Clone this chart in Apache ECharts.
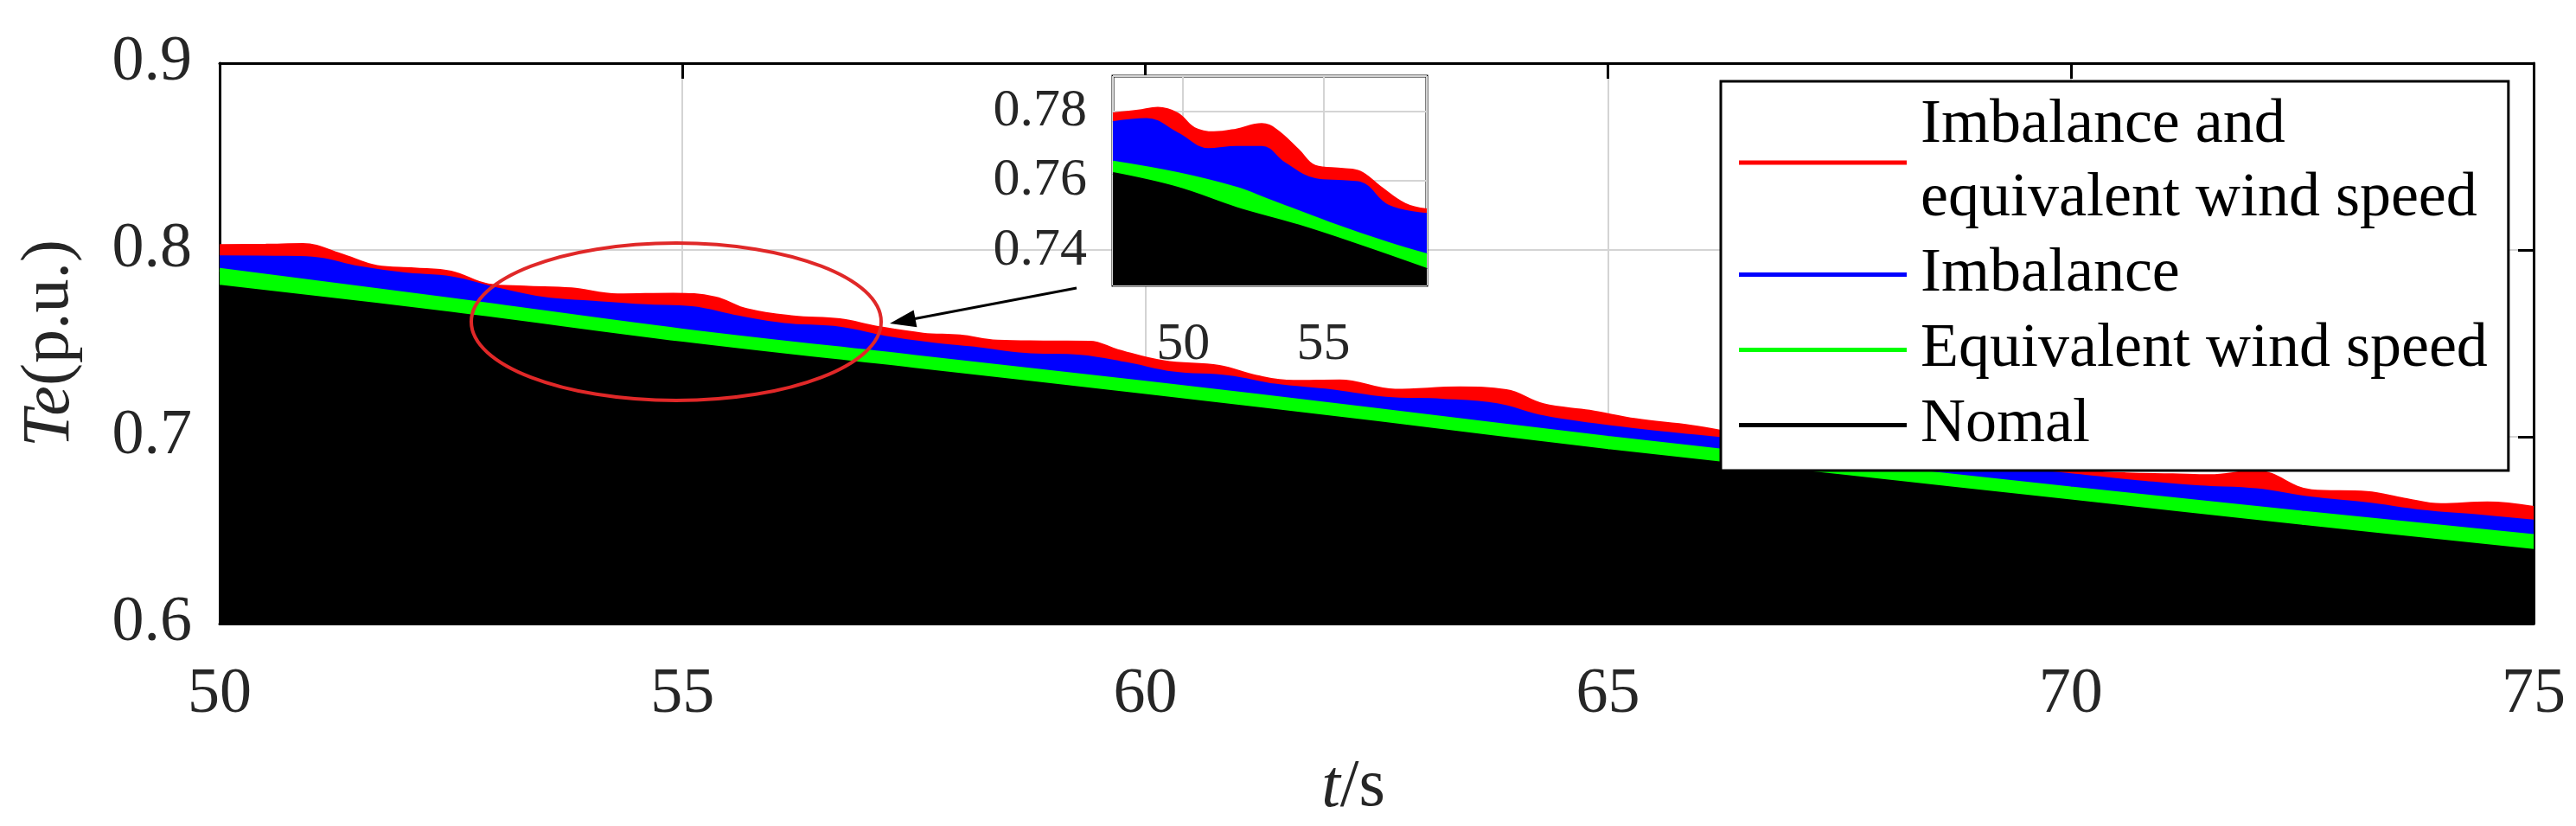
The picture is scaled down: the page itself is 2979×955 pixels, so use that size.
<!DOCTYPE html>
<html>
<head>
<meta charset="utf-8">
<title>Te(p.u.)</title>
<script src="https://cdn.jsdelivr.net/npm/echarts@6/dist/echarts.min.js"></script>
<style>
html, body { margin: 0; padding: 0; background: #fff; }
#chart { width: 2979px; height: 955px; }
</style>
</head>
<body>
<div id="chart"></div>
<script>
var FONT = 'Liberation Serif';

var names = ['Imbalance and\nequivalent wind speed', 'Imbalance', 'Equivalent wind speed', 'Nomal'];
var colors = ['#ff0000', '#0000ff', '#00ff00', '#000000'];

// main axes
var xRange = [50, 75];
var yRange = [0.6, 0.9];

// main curves (t in s, Te in p.u.)
var tRed = [50.0, 50.5, 50.9, 51.3, 51.7, 52.1, 52.5, 52.9, 53.3, 53.8, 54.3, 54.9, 55.35, 55.7, 56.2, 56.7, 57.1, 57.6, 58.0, 58.4,
  58.9, 59.4, 59.7, 60.2, 60.8, 61.2, 61.6, 62.1, 62.7, 63.4, 63.9, 64.3, 64.8, 65.3, 65.9, 66.5, 67.0, 67.6, 68.1, 68.6,
  69.2, 69.7, 70.2, 70.6, 71.1, 71.5, 72.0, 72.6, 73.2, 73.6, 74.0, 74.5, 75.0];
var red = [0.8022, 0.8024, 0.8028, 0.7975, 0.7910, 0.7897, 0.7880, 0.7812, 0.7800, 0.7790, 0.7758, 0.7762, 0.7742, 0.7678, 0.7640, 0.7625, 0.7585, 0.7548, 0.7538, 0.7510,
  0.7506, 0.7505, 0.7460, 0.7400, 0.7375, 0.7322, 0.7295, 0.7298, 0.7248, 0.7260, 0.7245, 0.7170, 0.7135, 0.7090, 0.7055, 0.7005, 0.6975, 0.6945, 0.6905, 0.6880,
  0.6855, 0.6835, 0.6810, 0.6800, 0.6795, 0.6790, 0.6812, 0.6710, 0.6700, 0.6665, 0.6635, 0.6645, 0.6620];

var tBlue = [50.0, 50.6, 51.0, 51.5, 52.0, 52.5, 53.0, 53.5, 54.0, 54.6, 55.1, 55.6, 56.1, 56.7, 57.2, 57.7, 58.2, 58.7, 59.3, 59.8,
  60.3, 60.9, 61.4, 62.0, 62.6, 63.2, 63.8, 64.3, 64.9, 65.4, 66.0, 66.6, 67.2, 67.8, 68.4, 69.0, 69.6, 70.2, 70.8, 71.4,
  72.0, 72.6, 73.2, 73.8, 74.4, 75.0];
var blue = [0.7962, 0.7960, 0.7955, 0.7905, 0.7870, 0.7850, 0.7790, 0.7740, 0.7720, 0.7700, 0.7690, 0.7640, 0.7600, 0.7580, 0.7530, 0.7495, 0.7470, 0.7440, 0.7430, 0.7390,
  0.7340, 0.7320, 0.7275, 0.7245, 0.7205, 0.7195, 0.7170, 0.7105, 0.7060, 0.7030, 0.7000, 0.6970, 0.6940, 0.6905, 0.6870, 0.6840, 0.6815, 0.6785, 0.6755, 0.6730,
  0.6715, 0.6670, 0.6640, 0.6600, 0.6575, 0.6547];

var tLow = [50, 52.5, 55, 57.5, 60, 62.5, 65, 67.5, 70, 72.5, 75];
var green = [0.7895, 0.7735, 0.7570, 0.7430, 0.7290, 0.7145, 0.6995, 0.6860, 0.6725, 0.6595, 0.6470];
var black = [0.7805, 0.7660, 0.7500, 0.7360, 0.7220, 0.7075, 0.6925, 0.6790, 0.6655, 0.6520, 0.6390];

// inset axes and curves, in the inset's own tick units
var insetXRange = [47.5, 58.68];
var insetYRange = [0.73, 0.79];

var insetTRed = [47.5, 48.4, 49.1, 49.8, 50.4, 51.1, 51.9, 52.8, 53.3, 54.1, 54.7, 55.7, 56.3, 57.0, 57.9, 58.68];
var insetRed = [0.7792, 0.7800, 0.7808, 0.7792, 0.7750, 0.7738, 0.7746, 0.7762, 0.7746, 0.7688, 0.7642, 0.7633, 0.7625, 0.7583, 0.7533, 0.7517];
var insetTBlue = [47.5, 48.7, 49.8, 50.9, 51.9, 52.8, 53.6, 54.7, 55.7, 56.3, 57.3, 58.68];
var insetBlue = [0.7767, 0.7776, 0.7735, 0.7690, 0.7696, 0.7696, 0.7650, 0.7604, 0.7598, 0.7594, 0.7528, 0.7504];
var insetTGreen = [47.5, 49.8, 51.9, 53.0, 55.2, 57.3, 58.68];
var insetGreen = [0.7654, 0.7621, 0.7579, 0.7546, 0.7479, 0.7421, 0.7388];
var insetTBlack = [47.5, 49.8, 51.9, 54.1, 56.3, 58.68];
var insetBlack = [0.7621, 0.7579, 0.7521, 0.7471, 0.7413, 0.7346];

function pairs(ts, vs) {
  var out = [];
  for (var i = 0; i < ts.length; i++) out.push([ts[i], vs[i]]);
  return out;
}

function areaSeries(k, ts, vs, axisIndex, width) {
  return {
    name: names[k],
    type: 'line',
    xAxisIndex: axisIndex,
    yAxisIndex: axisIndex,
    data: pairs(ts, vs),
    symbol: 'none',
    smooth: 0.4,
    lineStyle: { color: colors[k], width: width },
    itemStyle: { color: colors[k] },
    areaStyle: { color: colors[k], opacity: 1, origin: 'start' }
  };
}

var boxLine = { lineStyle: { color: '#000', width: 3 }, onZero: false };
var grayGrid = { lineStyle: { color: '#d4d4d4', width: 2 } };

function onStep(v, step) {
  var q = v / step;
  return Math.abs(q - Math.round(q)) < 1e-6;
}

var chart = echarts.init(document.getElementById('chart'));

chart.setOption({
  animation: false,
  backgroundColor: '#fff',
  textStyle: { fontFamily: FONT },
  grid: [
    { left: 254, top: 73, width: 2676, height: 650, show: false },
    { left: 1287, top: 88, width: 363, height: 242, show: true, backgroundColor: '#fff', borderColor: '#000', borderWidth: 3, z: 1 }
  ],
  xAxis: [
    {
      gridIndex: 0, type: 'value', min: xRange[0], max: xRange[1], interval: 5,
      axisLine: boxLine,
      axisTick: { inside: true, length: 18, lineStyle: { color: '#000', width: 3 } },
      axisLabel: { margin: 46, fontSize: 74, fontFamily: FONT, color: '#262626' },
      splitLine: grayGrid,
      name: '{i|t}/s', nameLocation: 'middle', nameGap: 151,
      nameTextStyle: { fontFamily: FONT, fontSize: 78, color: '#262626', padding: [0, 54, 0, 0],
        rich: { i: { fontFamily: FONT, fontSize: 78, fontStyle: 'italic', color: '#262626' } } }
    },
    {
      gridIndex: 0, type: 'value', position: 'top', min: xRange[0], max: xRange[1], interval: 5,
      axisLine: boxLine,
      axisTick: { inside: true, length: 18, lineStyle: { color: '#000', width: 3 } },
      axisLabel: { show: false }, splitLine: { show: false }
    },
    {
      gridIndex: 1, type: 'value', min: insetXRange[0], max: insetXRange[1], splitNumber: 2, z: 1,
      axisLine: { show: false }, axisTick: { show: false },
      axisLabel: { margin: 38, fontSize: 62, fontFamily: FONT, color: '#262626',
        formatter: function (v) { return onStep(v, 5) ? String(Math.round(v)) : ''; } },
      splitLine: grayGrid
    }
  ],
  yAxis: [
    {
      gridIndex: 0, type: 'value', min: yRange[0], max: yRange[1], interval: 0.1,
      axisLine: boxLine,
      axisTick: { inside: true, length: 18, lineStyle: { color: '#000', width: 3 } },
      axisLabel: { margin: 32, fontSize: 74, fontFamily: FONT, color: '#262626',
        formatter: function (v) { return v.toFixed(1); } },
      splitLine: grayGrid,
      name: '{i|Te}(p.u.)', nameLocation: 'middle', nameGap: 157, nameRotate: 90,
      nameTextStyle: { fontFamily: FONT, fontSize: 78, color: '#262626',
        rich: { i: { fontFamily: FONT, fontSize: 78, fontStyle: 'italic', color: '#262626' } } }
    },
    {
      gridIndex: 0, type: 'value', position: 'right', min: yRange[0], max: yRange[1], interval: 0.1,
      axisLine: boxLine,
      axisTick: { inside: true, length: 18, lineStyle: { color: '#000', width: 3 } },
      axisLabel: { show: false }, splitLine: { show: false }
    },
    {
      gridIndex: 1, type: 'value', min: insetYRange[0], max: insetYRange[1], splitNumber: 3, z: 1,
      axisLine: { show: false }, axisTick: { show: false },
      axisLabel: { margin: 30, fontSize: 62, fontFamily: FONT, color: '#262626',
        formatter: function (v) { return onStep(v, 0.02) ? v.toFixed(2) : ''; } },
      splitLine: grayGrid
    }
  ],
  legend: {
    data: names,
    orient: 'vertical',
    left: 1990, top: 94,
    padding: [9, 24, 10, 21],
    itemGap: 2,
    itemWidth: 194, itemHeight: 5,
    icon: 'rect',
    selectedMode: false,
    backgroundColor: '#fff',
    borderColor: '#000', borderWidth: 3,
    textStyle: { fontFamily: FONT, fontSize: 72, lineHeight: 85, color: '#000', padding: [0, 0, 0, 11],
      rich: { n: { fontFamily: FONT, fontSize: 72, lineHeight: 85, color: '#000' } } },
    formatter: function (name) {
      return name.split('\n').map(function (s) { return '{n|' + s + '}'; }).join('\n');
    },
    z: 6
  },
  series: [
    areaSeries(0, tRed, red, 0, 4),
    areaSeries(1, tBlue, blue, 0, 4),
    areaSeries(2, tLow, green, 0, 4),
    areaSeries(3, tLow, black, 0, 4),
    areaSeries(0, insetTRed, insetRed, 2, 3),
    areaSeries(1, insetTBlue, insetBlue, 2, 3),
    areaSeries(2, insetTGreen, insetGreen, 2, 3),
    areaSeries(3, insetTBlack, insetBlack, 2, 3)
  ],
  graphic: [
    // ellipse marking the zoomed region, and the arrow to the inset
    { type: 'ellipse', shape: { cx: 782, cy: 372, rx: 237, ry: 91 }, style: { fill: 'none', stroke: '#e02828', lineWidth: 4 }, z: 10 },
    { type: 'line', shape: { x1: 1245, y1: 333, x2: 1058, y2: 368.5 }, style: { stroke: '#000', lineWidth: 3 }, z: 10 },
    { type: 'polygon', shape: { points: [[1029, 374], [1060.4, 378.2], [1056.6, 358.6]] }, style: { fill: '#000' }, z: 10 }
  ]
});
</script>
</body>
</html>
